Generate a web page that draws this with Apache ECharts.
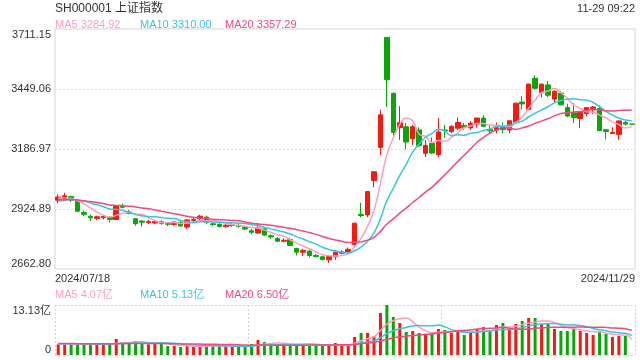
<!DOCTYPE html>
<html><head><meta charset="utf-8">
<script src="https://cdn.jsdelivr.net/npm/echarts@6/dist/echarts.min.js"></script>
<style>html,body{margin:0;padding:0;background:#fff}#c{width:640px;height:360px}</style>
</head><body><div id="c"></div>
<script>
const dates = [
'2024/07/18','2024/07/19','2024/07/22','2024/07/23','2024/07/24','2024/07/25','2024/07/26','2024/07/29','2024/07/30','2024/07/31',
'2024/08/01','2024/08/02','2024/08/05','2024/08/06','2024/08/07','2024/08/08','2024/08/09','2024/08/12','2024/08/13','2024/08/14',
'2024/08/15','2024/08/16','2024/08/19','2024/08/20','2024/08/21','2024/08/22','2024/08/23','2024/08/26','2024/08/27','2024/08/28',
'2024/08/29','2024/08/30','2024/09/02','2024/09/03','2024/09/04','2024/09/05','2024/09/06','2024/09/09','2024/09/10','2024/09/11',
'2024/09/12','2024/09/13','2024/09/18','2024/09/19','2024/09/20','2024/09/23','2024/09/24','2024/09/25','2024/09/26','2024/09/27',
'2024/09/30','2024/10/08','2024/10/09','2024/10/10','2024/10/11','2024/10/14','2024/10/15','2024/10/16','2024/10/17','2024/10/18',
'2024/10/21','2024/10/22','2024/10/23','2024/10/24','2024/10/25','2024/10/28','2024/10/29','2024/10/30','2024/10/31','2024/11/01',
'2024/11/04','2024/11/05','2024/11/06','2024/11/07','2024/11/08','2024/11/11','2024/11/12','2024/11/13','2024/11/14','2024/11/15',
'2024/11/18','2024/11/19','2024/11/20','2024/11/21','2024/11/22','2024/11/25','2024/11/26','2024/11/27','2024/11/28','2024/11/29'];

const opens = [
2963.5,2968,2979,2962,2910,2893,2884,2887,2888,2879,
2937,2912,2882,2872,2865,2864,2869,2861,2857,2866,
2846,2875,2882,2889,2860,2857,2848,2853,2853,2845,
2830,2820,2838,2808,2796,2784,2791,2752,2736,2741,
2722,2716,2703,2716,2732,2737,2770,2901,2899,3049,
3194,3674.40,3430,3280,3284,3232,3270,3168,3212,3162,
3270,3263,3278,3290,3279,3296,3322,3272,3270,3280,
3270,3305,3392,3360,3496,3433,3467,3405,3431,3368,
3345,3320,3342,3363,3364,3271,3255,3251,3303,3295.6];

const closes = [
2977.13,2982.31,2964.22,2915.37,2901.95,2886.74,2890.90,2891.85,2879.30,2938.75,
2932.39,2905.34,2860.70,2867.28,2869.90,2869.83,2862.19,2858.20,2867.95,2850.65,
2877.36,2879.43,2893.67,2866.66,2856.58,2848.77,2854.37,2855.52,2848.73,2837.43,
2823.11,2842.21,2811.04,2802.98,2784.28,2788.31,2765.81,2736.49,2744.19,2721.80,
2717.12,2704.09,2717.28,2736.02,2736.81,2748.92,2863.13,2896.31,3000.95,3087.53,
3336.50,3489.78,3258.86,3301.93,3217.74,3284.32,3201.29,3202.95,3169.38,3261.56,
3268.11,3285.87,3302.80,3280.26,3299.70,3322.20,3286.41,3266.24,3279.82,3272.01,
3310.21,3386.99,3383.81,3470.66,3452.30,3470.07,3421.97,3439.28,3379.84,3330.73,
3323.85,3346.01,3367.99,3370.40,3267.19,3263.76,3259.76,3309.78,3295.70,3295.6];

const lows = [
2951,2960,2955,2913,2893,2872,2876,2879,2866,2876,
2927,2902,2852,2848,2859,2858,2856,2850,2851,2849,
2838,2869,2876,2860,2851,2845,2843,2847,2843,2832,
2815,2817,2808,2795,2781,2779,2764,2722,2719,2714,
2713,2700,2689.70,2703,2727,2730,2765,2889,2889,3020,
3160,3371,3246,3226,3186,3205,3197,3152,3165,3152,
3236,3255,3270,3271,3270,3280,3282,3256,3255,3256,
3256,3300,3360,3356,3446,3413,3414,3390,3377,3326,
3300,3278,3330,3340,3265,3229,3253,3227,3290,3295.6];

const highs = [
2988,2996,2983,2966,2918,2900,2896,2899,2893,2941,
2948,2921,2886,2877,2878,2876,2876,2866,2871,2872,
2880,2888,2900,2896,2866,2864,2858,2862,2860,2852,
2838,2864,2846,2815,2802,2797,2800,2756,2750,2746,
2728,2720,2721,2746,2745,2757,2864,2952,3001,3088,
3358,3674.40,3434,3374,3300,3292,3282,3227,3238,3322,
3292,3291,3325,3301,3308,3323,3335,3290,3303,3303,
3312,3389,3418,3472,3509,3474,3484,3443,3440,3385,
3387,3348,3368,3375,3377,3273,3282,3310,3310,3295.6];

// volume in 亿
const volumes = [
2.80,2.80,2.80,2.80,3.06,2.80,2.80,2.80,2.80,4.20,
3.41,3.06,3.68,3.06,2.80,3.06,3.06,2.36,2.36,2.10,
2.36,2.36,2.36,2.36,2.36,2.36,2.36,2.36,2.10,2.10,
2.89,3.94,3.41,2.80,2.80,2.54,2.80,2.54,2.54,2.54,
2.54,2.54,2.54,3.15,2.54,2.54,4.73,5.78,5.78,4.99,
11.03,13.13,9.98,8.40,6.04,6.30,5.78,5.51,5.51,6.83,
6.57,5.78,6.48,5.25,5.95,6.74,7.35,6.57,7.88,8.40,
6.65,8.14,8.93,9.72,9.72,8.14,8.14,6.83,6.30,6.30,
7.09,6.30,5.78,5.25,6.04,5.51,4.73,4.99,4.99,0];

// sessions before the first visible day (moving-average warm-up)
const priorCloses = [3005.44,2998.14,2963.10,2950.00,2972.53,2945.85,2967.40,2994.73,2997.01,2982.38,
2957.57,2949.93,2922.45,2959.37,2939.36,2970.39,2971.30,2974.01,2976.30,2962.10];
const priorVolumes = [3.1,3.0,2.9,3.2,3.0,2.9,3.1,3.3,3.2,3.0,2.9,3.1,3.0,2.8,3.2,3.0,3.1,3.0,2.9,2.9];

const yTickLabels = ['2662.80','2924.89','3186.97','3449.06','3711.15'];
const volTickLabels = ['0','13.13亿'];
const maLegend = ['MA5 3284.92','MA10 3310.00','MA20 3357.29'];
const volLegend = ['MA5 4.07亿','MA10 5.13亿','MA20 6.50亿'];
const titleText = 'SH000001 上证指数';
const timeText = '11-29 09:22';

const UP = '#f21a12', DOWN = '#08a608';
const C5 = '#fc9fbd', C10 = '#3cc3e3', C20 = '#ee4a80';
const FONT = "'Liberation Sans', Arial, 'Noto Sans CJK SC', sans-serif";

function movingAvg(n, prior, vals) {
  const all = prior.concat(vals), off = prior.length;
  return vals.map((_, i) => { let s = 0; for (let k = 0; k < n; k++) s += all[off + i - k]; return +(s / n).toFixed(3); });
}
const signs = closes.map((c, i) => c > opens[i] ? 1 : c < opens[i] ? -1 : (i > 0 && closes[i - 1] > c ? -1 : 1));
const kData = opens.map((o, i) => [o, closes[i], lows[i], highs[i]]);
const volData = volumes.map((v, i) => ({ value: v, itemStyle: { color: signs[i] > 0 ? UP : DOWN } }));

const lineS = (name, data, color, xi, yi) => ({ name, type: 'line', data, xAxisIndex: xi, yAxisIndex: yi, smooth: true, showSymbol: false, symbol: 'none', lineStyle: { width: 1.5, color }, itemStyle: { color }, z: 3 });
const txt = (text, left, top, color, size) => ({ text, left, top, padding: 0, textStyle: { fontSize: size || 11, fontWeight: 'normal', color, fontFamily: FONT } });

const chart = echarts.init(document.getElementById('c'), null, { renderer: 'canvas' });
chart.setOption({
  animation: false,
  backgroundColor: '#fff',
  textStyle: { fontFamily: FONT },
  title: [
    txt(titleText, 55, 3, '#333', 12),
    Object.assign(txt(timeText, null, 3, '#333', 11), { left: undefined, right: 5 }),
    txt(maLegend[0], 55, 19, C5), txt(maLegend[1], 140, 19, C10), txt(maLegend[2], 225, 19, C20),
    txt(volLegend[0], 55, 289, C5), txt(volLegend[1], 140, 289, C10), txt(volLegend[2], 225, 289, C20)
  ],
  grid: [
    { left: 55, right: 5, top: 29, height: 240, show: true, borderColor: '#d4d4d4', borderWidth: 1, backgroundColor: 'transparent' },
    { left: 55, right: 5, top: 305, height: 50 }
  ],
  xAxis: [
    { type: 'category', gridIndex: 0, data: dates, boundaryGap: true, position: 'top', axisLine: { show: false }, axisTick: { show: false }, axisLabel: { show: false }, splitLine: { show: false } },
    { type: 'category', gridIndex: 1, data: dates, boundaryGap: true, axisLine: { show: false }, axisTick: { show: false }, axisLabel: { show: false },
      splitLine: { show: true, interval: 29, lineStyle: { color: '#d4d4d4', type: [2, 2], width: 1 } } },
    { type: 'category', gridIndex: 0, data: dates, boundaryGap: false, position: 'bottom', axisLine: { show: false }, axisTick: { show: false },
      axisLabel: { interval: (i) => i === 0 || i === dates.length - 1, alignMinLabel: 'left', alignMaxLabel: 'right', margin: 4, fontSize: 11, color: '#333', fontFamily: FONT }, splitLine: { show: false } }
  ],
  yAxis: [
    { type: 'value', gridIndex: 0, min: 2662.80, max: 3711.15, position: 'right', axisLine: { show: false }, axisTick: { show: false }, axisLabel: { show: false }, splitLine: { show: false } },
    { type: 'value', gridIndex: 0, min: 0, max: 4, interval: 1, position: 'left', axisLine: { show: false }, axisTick: { show: false },
      axisLabel: { formatter: (v) => yTickLabels[Math.round(v)], fontSize: 11, color: '#333', margin: 4, fontFamily: FONT, verticalAlignMinLabel: 'bottom', verticalAlignMaxLabel: 'top' },
      splitLine: { show: true, showMinLine: false, showMaxLine: false, lineStyle: { color: '#dedede', type: [2, 2] } } },
    { type: 'value', gridIndex: 1, min: 0, max: 13.13, interval: 13.13, position: 'left', axisLine: { show: false }, axisTick: { show: false },
      axisLabel: { formatter: (v, i) => volTickLabels[i], fontSize: 11, color: '#333', margin: 4, fontFamily: FONT, verticalAlignMinLabel: 'bottom', verticalAlignMaxLabel: 'top' },
      splitLine: { show: true, lineStyle: { color: '#d4d4d4', type: [2, 2] } } }
  ],
  series: [
    { type: 'candlestick', xAxisIndex: 0, yAxisIndex: 0, data: kData, barWidth: 5,
      itemStyle: { color: UP, color0: DOWN, borderColor: UP, borderColor0: DOWN, borderWidth: 1 } },
    lineS('MA5', movingAvg(5, priorCloses, closes), C5, 0, 0),
    lineS('MA10', movingAvg(10, priorCloses, closes), C10, 0, 0),
    lineS('MA20', movingAvg(20, priorCloses, closes), C20, 0, 0),
    { type: 'bar', xAxisIndex: 1, yAxisIndex: 2, data: volData, barWidth: 3 },
    lineS('VMA5', movingAvg(5, priorVolumes, volumes), C5, 1, 2),
    lineS('VMA10', movingAvg(10, priorVolumes, volumes), C10, 1, 2),
    lineS('VMA20', movingAvg(20, priorVolumes, volumes), C20, 1, 2)
  ]
});
</script></body></html>
